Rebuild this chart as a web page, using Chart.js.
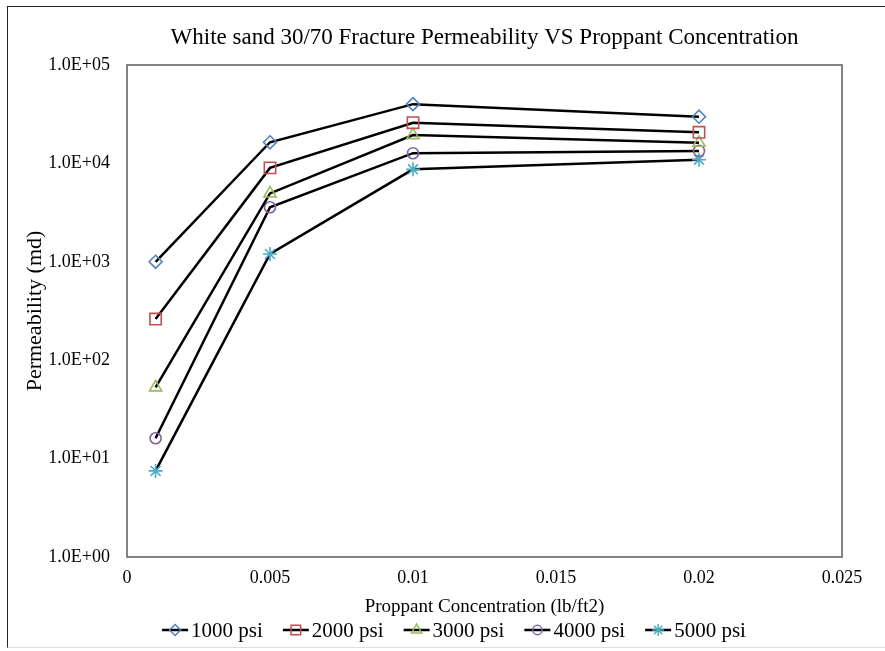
<!DOCTYPE html>
<html>
<head>
<meta charset="utf-8">
<title>White sand 30/70 Fracture Permeability</title>
<script src="https://cdn.jsdelivr.net/npm/chart.js@4.4.0/dist/chart.umd.min.js"></script>
<style>
    body { margin: 0; background: #fff; }
    #frame {
        position: absolute; left: 7px; top: 6px;
        width: 878px; height: 642px; box-sizing: border-box;
        border-left: 1px solid #222; border-top: 1px solid #222; border-bottom: 1px solid #ddd;
    }
    #wrap { position: relative; width: 877px; height: 640px; }
</style>
</head>
<body>
<div id="frame"><div id="wrap"><canvas id="myChart"></canvas></div></div>
<script>
// proppant concentration (lb/ft2) and permeability (md) per closure stress
const concentration = [0.001, 0.005, 0.01, 0.02];
const psi1000 = [1000, 16400, 40000, 29800];
const psi2000 = [262, 9000, 25900, 20700];
const psi3000 = [53, 4950, 19400, 16200];
const psi4000 = [16.1, 3580, 12700, 13400];
const psi5000 = [7.5, 1200, 8700, 10900];

const seriesNames = ['1000 psi', '2000 psi', '3000 psi', '4000 psi', '5000 psi'];
const seriesValues = [psi1000, psi2000, psi3000, psi4000, psi5000];

const xTicks = [0, 0.005, 0.01, 0.015, 0.02, 0.025];
const xTickLabels = ['0', '0.005', '0.01', '0.015', '0.02', '0.025'];
const yTicks = [1, 10, 100, 1000, 10000, 100000];
const yTickLabels = ['1.0E+00', '1.0E+01', '1.0E+02', '1.0E+03', '1.0E+04', '1.0E+05'];

const colors = ['#4f81bd', '#c0504d', '#9bbb59', '#8064a2', '#4bacc6'];
const markers = ['rectRot', 'rect', 'triangle', 'circle', 'star'];
const markerSize = [6.5, 8, 7, 5.5, 7];

const serif = '"Liberation Serif", "Times New Roman", serif';
const titleText = 'White sand 30/70 Fracture Permeability VS Proppant Concentration';

// title, plot box and the line+marker legend are drawn by hand
const decor = {
    id: 'decor',
    beforeDatasetsDraw(chart) {
        const a = chart.chartArea;
        const ctx = chart.ctx;
        ctx.save();
        ctx.strokeStyle = '#666';
        ctx.lineWidth = 1.6;
        ctx.strokeRect(a.left, a.top, a.right - a.left, a.bottom - a.top);
        ctx.restore();
    },
    afterDraw(chart) {
        const a = chart.chartArea;
        const ctx = chart.ctx;
        ctx.save();
        ctx.fillStyle = '#000';
        ctx.textBaseline = 'middle';
        ctx.textAlign = 'center';
        ctx.font = '23px ' + serif;
        ctx.fillText(titleText, (a.left + a.right) / 2, 31);

        ctx.font = '21px ' + serif;
        ctx.textAlign = 'left';
        const lineW = 26, gap = 20;
        const items = chart.data.datasets.map(ds => ({ ds: ds, w: lineW + 3 + ctx.measureText(ds.label).width }));
        const total = items.reduce((s, it) => s + it.w, 0) + gap * (items.length - 1);
        let x = 446 - total / 2;
        const y = 623;
        items.forEach(it => {
            ctx.strokeStyle = '#000';
            ctx.lineWidth = 2.5;
            ctx.beginPath();
            ctx.moveTo(x, y);
            ctx.lineTo(x + lineW, y);
            ctx.stroke();
            ctx.strokeStyle = it.ds.pointBorderColor;
            ctx.fillStyle = 'rgba(0,0,0,0)';
            ctx.lineWidth = 1.5;
            Chart.helpers.drawPoint(ctx, {
                pointStyle: it.ds.pointStyle,
                radius: it.ds.pointRadius * 0.85,
                borderWidth: 1.5,
                rotation: 0
            }, x + lineW / 2, y);
            ctx.fillStyle = '#000';
            ctx.fillText(it.ds.label, x + lineW + 3, y + 1);
            x += it.w + gap;
        });
        ctx.restore();
    }
};

const datasets = seriesNames.map((name, i) => ({
    label: name,
    data: concentration.map((c, j) => ({ x: c, y: seriesValues[i][j] })),
    borderColor: '#000',
    borderWidth: 2.5,
    tension: 0,
    pointStyle: markers[i],
    pointRadius: markerSize[i],
    pointHoverRadius: markerSize[i],
    pointBorderColor: colors[i],
    pointBackgroundColor: 'rgba(0,0,0,0)',
    pointBorderWidth: 1.6
}));

const ctx = document.getElementById('myChart').getContext('2d');
const myChart = new Chart(ctx, {
    type: 'line',
    data: { datasets: datasets },
    plugins: [decor],
    options: {
        responsive: true,
        maintainAspectRatio: false,
        animation: false,
        layout: { padding: { top: 58, right: 43, left: 0, bottom: 0 } },
        plugins: {
            legend: { display: false },
            title: { display: false },
            tooltip: { enabled: false }
        },
        scales: {
            x: {
                type: 'linear',
                min: 0,
                max: 0.025,
                grid: { display: false, drawTicks: false },
                border: { display: false },
                afterBuildTicks: scale => { scale.ticks = xTicks.map(v => ({ value: v })); },
                afterFit: scale => { scale.height = 90; },
                ticks: {
                    padding: 10,
                    color: '#000',
                    font: { family: serif, size: 18 },
                    maxRotation: 0,
                    callback: value => xTickLabels[xTicks.indexOf(value)]
                },
                title: {
                    display: true,
                    text: 'Proppant Concentration (lb/ft2)',
                    color: '#000',
                    font: { family: serif, size: 19 },
                    padding: { top: 0, bottom: 29 }
                }
            },
            y: {
                type: 'logarithmic',
                min: 1,
                max: 100000,
                grid: { display: false, drawTicks: false },
                border: { display: false },
                afterBuildTicks: scale => { scale.ticks = yTicks.map(v => ({ value: v })); },
                afterFit: scale => { scale.width = 119; },
                ticks: {
                    padding: 17,
                    color: '#000',
                    font: { family: serif, size: 18 },
                    callback: value => yTickLabels[yTicks.indexOf(value)]
                },
                title: {
                    display: true,
                    text: 'Permeability (md)',
                    color: '#000',
                    font: { family: serif, size: 22 },
                    padding: { top: 14, bottom: 0 }
                }
            }
        }
    }
});
</script>
</body>
</html>
